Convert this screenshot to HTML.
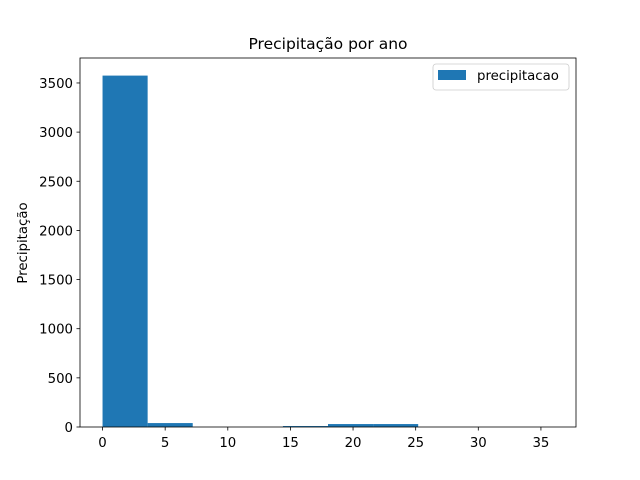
<!DOCTYPE html>
<html><head><meta charset="utf-8"><style>body{margin:0;background:#fff}svg{display:block;font-family:"DejaVu Sans","Liberation Sans",sans-serif}</style></head>
<body>
<svg id="chart" width="640" height="480"></svg>
<script>
const binEdges=[0,3.6,7.2,10.8,14.4,18,21.6,25.2,28.8,32.4,36];
const counts=[3575,40,0,0,10,30,30,0,0,0];
const xTicks=[0,5,10,15,20,25,30,35];
const yTicks=[0,500,1000,1500,2000,2500,3000,3500];
const L=80,R=576,T=58,B=427;
const xmin=-1.8,xmax=37.8,ymax=3754;
const X=v=>L+(v-xmin)/(xmax-xmin)*(R-L);
const Y=v=>B-v/ymax*(B-T);
const s=document.getElementById('chart');const NS='http://www.w3.org/2000/svg';
function el(t,a,p){const e=document.createElementNS(NS,t);for(const k in a)e.setAttribute(k,a[k]);(p||s).appendChild(e);return e;}
const bars=el('g',{});


counts.forEach((c,i)=>{if(c<=0)return;const r=el('rect',{x:X(binEdges[i]),y:Y(c),width:X(binEdges[i+1])-X(binEdges[i]),height:B-Y(c),fill:'#1f77b4'},bars);

});
const fr=el('rect',{x:L,y:T,width:R-L,height:B-T,fill:'none',stroke:'#000','stroke-width':0.8});


xTicks.forEach(v=>{const x=X(v);el('line',{x1:x,x2:x,y1:B,y2:B+3.5,stroke:'#000','stroke-width':0.8});
const t=el('text',{x:x,y:B+20,'font-size':13.3,'text-anchor':'middle'});t.textContent=v;

});
yTicks.forEach(v=>{const y=Y(v);el('line',{x1:L-3.5,x2:L,y1:y,y2:y,stroke:'#000','stroke-width':0.8});
const t=el('text',{x:L-7,y:y+5,'font-size':13.3,'text-anchor':'end'});t.textContent=v;

});
</script>
<svg style="position:absolute;left:0;top:0" width="640" height="480">
<text x="328" y="49" font-size="15.5" text-anchor="middle" font-family="DejaVu Sans, Liberation Sans, sans-serif">Precipitação por ano</text>
<text transform="translate(27,243) rotate(-90)" font-size="13.3" text-anchor="middle" font-family="DejaVu Sans, Liberation Sans, sans-serif">Precipitação</text>
<g>
<rect x="433" y="64" width="136" height="26" rx="3" fill="#fff" stroke="#ccc" stroke-width="0.8"/>
<rect x="438" y="70" width="28" height="10" fill="#1f77b4"/>
<text x="477" y="80" font-size="13.3" font-family="DejaVu Sans, Liberation Sans, sans-serif">precipitacao</text>
</g>
</svg>
</body></html>
